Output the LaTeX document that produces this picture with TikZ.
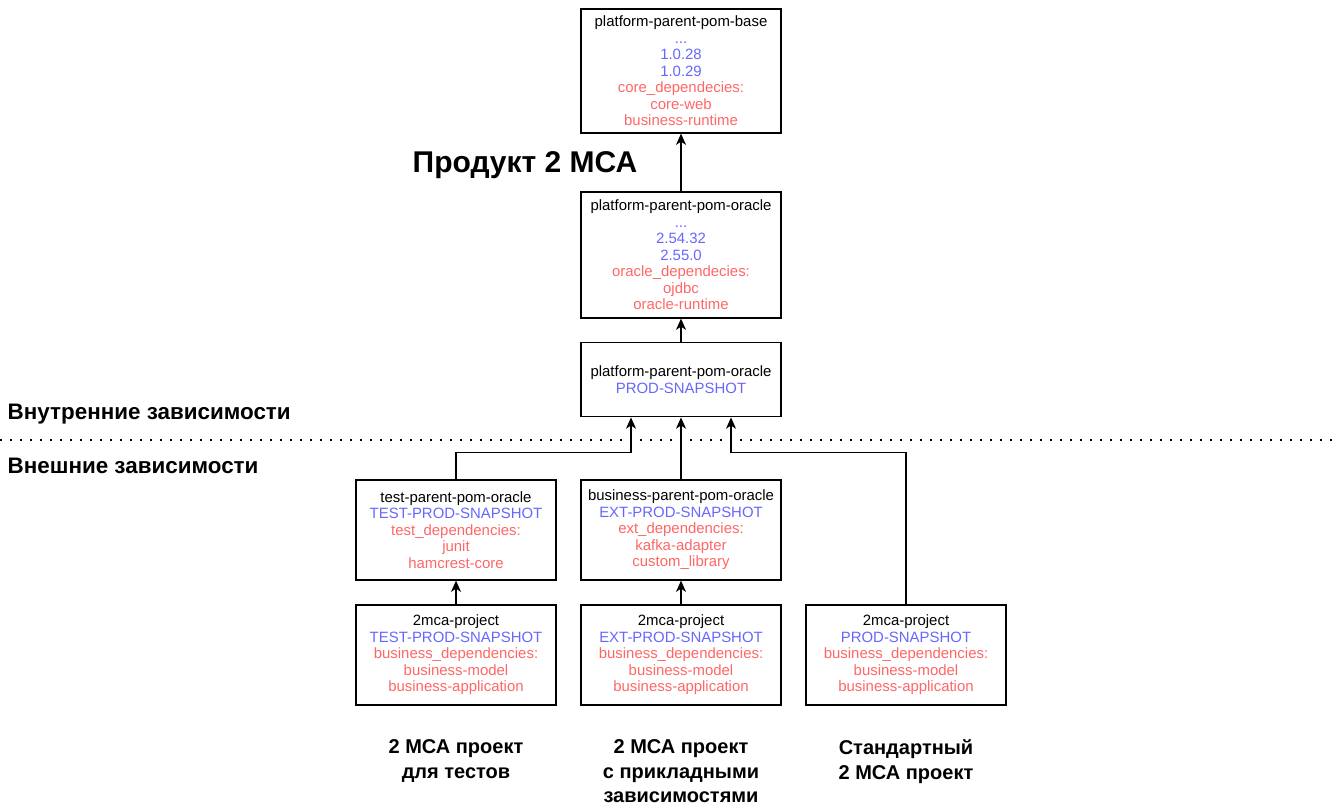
\documentclass[tikz,border=0pt]{standalone}
\usepackage{fontspec}
\setmainfont{Liberation Sans}
\usetikzlibrary{arrows.meta,positioning,calc}
\definecolor{verblau}{HTML}{6666FF}
\definecolor{deprot}{HTML}{FF6666}
\tikzset{
    %Define style for boxes
    pombox/.style={
           rectangle,
           draw=black, line width=0.9pt,
           minimum width=150pt,
           align=center,
           inner sep=2pt,
           font=\fontsize{11.2}{12.4}\selectfont},
    % Define arrow style
    pil/.style={
           -{Stealth[length=8.5pt,width=7.5pt,inset=2.5pt]},
           line width=0.8pt},
    % Headings
    titel/.style={font=\bfseries\fontsize{16.8}{20}\selectfont},
    unterschrift/.style={align=center, anchor=north,
           font=\bfseries\fontsize{15}{18.4}\selectfont},
}
\newcommand{\ver}[1]{\textcolor{verblau}{#1}}
\newcommand{\dep}[1]{\textcolor{deprot}{#1}}

\begin{document}
\begin{tikzpicture}[x=0.75pt,y=-0.75pt]
\useasboundingbox (0,0) rectangle (1337,807);

% Interne Kette
\node[pombox, minimum height=93pt] (base) at (681,71)
{platform-parent-pom-base\\ \ver{...}\\ \ver{1.0.28}\\ \ver{1.0.29}\\
 \dep{core\_dependecies:}\\ \dep{core-web}\\ \dep{business-runtime}};
\node[pombox, minimum height=94.5pt] (oracle) at (681,255)
{platform-parent-pom-oracle\\ \ver{...}\\ \ver{2.54.32}\\ \ver{2.55.0}\\
 \dep{oracle\_dependecies:}\\ \dep{ojdbc}\\ \dep{oracle-runtime}};
\node[pombox, minimum height=56pt] (prodsnap) at (681,379.5)
{platform-parent-pom-oracle\\ \ver{PROD-SNAPSHOT}};

\node[anchor=center, font=\bfseries\fontsize{22.5}{26}\selectfont] (produkt) at (525,165) {Продукт 2 МСА};

% Trennlinie
\node[titel, anchor=west] (intern) at (3,414) {Внутренние зависимости};
\node[titel, anchor=west] (extern) at (3,466) {Внешние зависимости};
\draw[line width=1.6pt, dash pattern=on 1.6pt off 5.9pt] (0,440) -- (1337,440);

% Externe Parents
\node[pombox, minimum height=75pt] (testparent) at (456,530)
{test-parent-pom-oracle\\ \ver{TEST-PROD-SNAPSHOT}\\ \dep{test\_dependencies:}\\
 \dep{junit}\\ \dep{hamcrest-core}};
\node[pombox, minimum height=75pt] (bizparent) at (681,530)
{business-parent-pom-oracle\\ \ver{EXT-PROD-SNAPSHOT}\\ \dep{ext\_dependencies:}\\
 \dep{kafka-adapter}\\ \dep{custom\_library}};

% Projekte
\node[pombox, minimum height=75pt] (testproj) at (456,655)
{2mca-project\\ \ver{TEST-PROD-SNAPSHOT}\\ \dep{business\_dependencies:}\\
 \dep{business-model}\\ \dep{business-application}};
\node[pombox, minimum height=75pt] (extproj) at (681,655)
{2mca-project\\ \ver{EXT-PROD-SNAPSHOT}\\ \dep{business\_dependencies:}\\
 \dep{business-model}\\ \dep{business-application}};
\node[pombox, minimum height=75pt] (stdproj) at (906,655)
{2mca-project\\ \ver{PROD-SNAPSHOT}\\ \dep{business\_dependencies:}\\
 \dep{business-model}\\ \dep{business-application}};

% Unterschriften
\node[unterschrift] (testlabel) at (456,735) {2 МСА проект\\для тестов};
\node[unterschrift] (extlabel) at (681,735) {2 МСА проект\\с прикладными\\зависимостями};
\node[unterschrift] (stdlabel) at (906,735) {Стандартный\\2 МСА проект};

% Pfeile
\draw[pil] (oracle) -- (base);
\draw[pil] (prodsnap) -- (oracle);
\draw[pil] (testparent.north) -- ++(0,-27) -| ([xshift=-37.5pt]prodsnap.south);
\draw[pil] (bizparent) -- (prodsnap);
\draw[pil] (stdproj.north) -- ++(0,-152) -| ([xshift=37.5pt]prodsnap.south);
\draw[pil] (testproj) -- (testparent);
\draw[pil] (extproj) -- (bizparent);
\end{tikzpicture}
\end{document}
